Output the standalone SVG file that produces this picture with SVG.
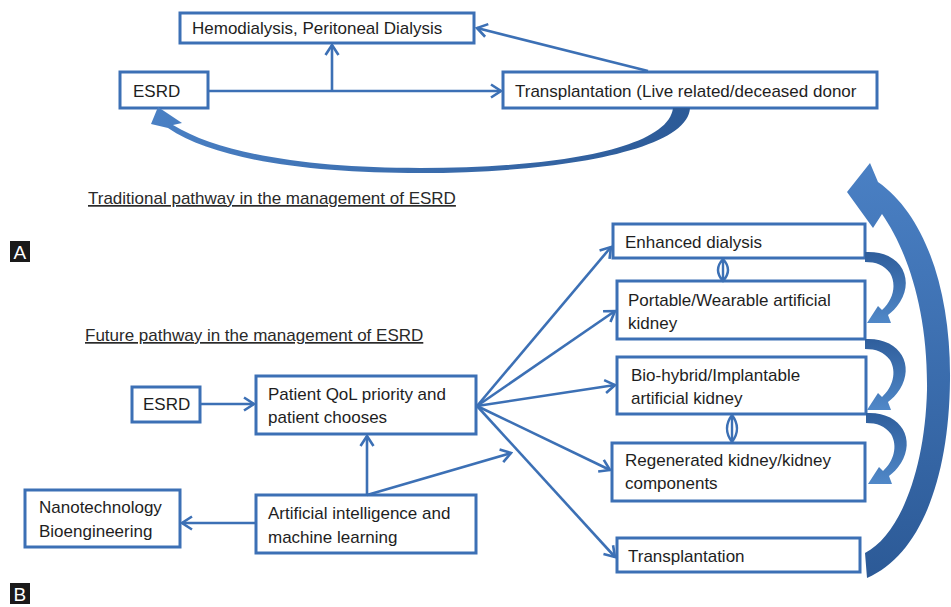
<svg xmlns="http://www.w3.org/2000/svg" xmlns:xlink="http://www.w3.org/1999/xlink" width="951" height="607" viewBox="0 0 951 607">
<style>
.box{fill:#ffffff;stroke:#3c70b5;stroke-width:3}
.t{font-family:"Liberation Sans",Arial,sans-serif;font-size:17px;fill:#1e1e1e}
.cap{font-family:"Liberation Sans",Arial,sans-serif;font-size:17px;fill:#2a2a2a;text-decoration:underline}
.ln{fill:none;stroke:#3c70b5;stroke-width:2.6}
.arr{marker-end:url(#ah)}
.lens{fill:none;stroke:#3c70b5;stroke-width:2.4}
.big{stroke:none}
.lab{font-family:"Liberation Sans",Arial,sans-serif;font-size:19px;fill:#ffffff}
</style>
<defs>
<marker id="ah" markerWidth="14" markerHeight="16" refX="12" refY="8" orient="auto" markerUnits="userSpaceOnUse">
<path d="M2,1.5 L12,8 L2,14.5" fill="none" stroke="#3c70b5" stroke-width="2.6"/>
</marker>
<linearGradient id="gA" x1="1" y1="0" x2="0" y2="0">
<stop offset="0" stop-color="#2c5a97"/>
<stop offset="1" stop-color="#4a80c4"/>
</linearGradient>
<linearGradient id="gB" x1="0" y1="1" x2="0" y2="0">
<stop offset="0" stop-color="#2c5a97"/>
<stop offset="1" stop-color="#4a80c4"/>
</linearGradient>
<linearGradient id="gC" x1="0" y1="0" x2="0" y2="1">
<stop offset="0" stop-color="#2f5e9c"/>
<stop offset="1" stop-color="#5088c8"/>
</linearGradient>
<path id="curl" d="M0,0 C35,-2 50,26 35,50 C31,56 27,60 23,63 L26,71 L2,71 L13,54 L17,58 C28,48 32,33 25,21 C19,13 11,10 0,10 Z" fill="url(#gC)"/>
</defs>

<rect width="951" height="607" fill="#ffffff"/>

<!-- Panel A nodes -->
<g id="hemo">
<rect class="box" x="180" y="13" width="294" height="30"/>
<text class="t" x="192" y="34">Hemodialysis, Peritoneal Dialysis</text>
</g>
<g id="esrdA">
<rect class="box" x="120" y="72" width="88" height="36"/>
<text class="t" x="133" y="97">ESRD</text>
</g>
<g id="transA">
<rect class="box" x="503" y="72" width="374" height="36"/>
<text class="t" x="515" y="97">Transplantation (Live related/deceased donor</text>
</g>

<!-- Panel B nodes -->
<g id="esrdB">
<rect class="box" x="132" y="387" width="68" height="35"/>
<text class="t" x="143" y="410">ESRD</text>
</g>
<g id="patient">
<rect class="box" x="256" y="376" width="220" height="58"/>
<text class="t" x="268" y="400">Patient QoL priority  and</text>
<text class="t" x="268" y="423">patient chooses</text>
</g>
<g id="nano">
<rect class="box" x="25" y="490" width="155" height="57"/>
<text class="t" x="39" y="513">Nanotechnology</text>
<text class="t" x="39" y="537">Bioengineering</text>
</g>
<g id="ai">
<rect class="box" x="256" y="495" width="220" height="58"/>
<text class="t" x="268" y="519">Artificial intelligence and</text>
<text class="t" x="268" y="543">machine learning</text>
</g>
<g id="enh">
<rect class="box" x="613" y="224" width="252" height="34"/>
<text class="t" x="625" y="248">Enhanced dialysis</text>
</g>
<g id="port">
<rect class="box" x="617" y="281" width="248" height="58"/>
<text class="t" x="628" y="306">Portable/Wearable artificial</text>
<text class="t" x="628" y="329">kidney</text>
</g>
<g id="bio">
<rect class="box" x="617" y="357" width="249" height="57"/>
<text class="t" x="631" y="381">Bio-hybrid/Implantable</text>
<text class="t" x="631" y="404">artificial kidney</text>
</g>
<g id="regen">
<rect class="box" x="612" y="443" width="253" height="58"/>
<text class="t" x="625" y="466">Regenerated kidney/kidney</text>
<text class="t" x="625" y="489">components</text>
</g>
<g id="transB">
<rect class="box" x="617" y="538" width="243" height="34"/>
<text class="t" x="628" y="562">Transplantation</text>
</g>

<!-- Connectors -->
<g id="connectors">
<!-- A -->
<path class="ln arr" d="M209,91 H501"/>
<path class="ln arr" d="M332,91 V45"/>
<path class="ln arr" d="M648,71 L477,28"/>
<path class="big" fill="url(#gA)" d="M690,108 C688,150 560,173 420,173 C310,173 215,160 168,128 L151,124 L158,107 L182,123 L173,125 C220,154 310,168 420,168 C550,168 668,150 673,108 Z"/>
<!-- B -->
<path class="ln arr" d="M201,404 H254"/>
<path class="ln arr" d="M367,495 V436"/>
<path class="ln arr" d="M367,495 L511,453"/>
<path class="ln arr" d="M256,523 H182"/>
<path class="ln arr" d="M477,406 L611,247"/>
<path class="ln arr" d="M477,406 L615,311"/>
<path class="ln arr" d="M477,406 L615,385"/>
<path class="ln arr" d="M477,406 L610,470"/>
<path class="ln arr" d="M477,406 L615,557"/>
<path class="lens" d="M723,259 V281 M723,259 Q733,270 723,281 Q713,270 723,259"/>
<path class="lens" d="M732,415 V442 M732,415 Q742,428.5 732,442 Q722,428.5 732,415"/>
<use xlink:href="#curl" href="#curl" transform="translate(865,252)"/>
<use xlink:href="#curl" href="#curl" transform="translate(865,339)"/>
<use xlink:href="#curl" href="#curl" transform="translate(866,413)"/>
<path class="big" fill="url(#gB)" d="M865,553 C900,535 925,470 927,390 C928,310 907,250 882,214 L873,228 L847,192 L870,163 L878,182 C925,215 951,290 950,380 C949,480 920,555 867,578 Z"/>
</g>

<!-- Captions -->
<text class="cap" x="88" y="204">Traditional pathway in the management of ESRD</text>
<text class="cap" x="85" y="341">Future pathway in the management of ESRD</text>

<!-- Panel labels -->
<g id="labelA">
<rect x="10" y="241" width="20" height="21" fill="#1a1a1a"/>
<text class="lab" x="13.5" y="258.5">A</text>
</g>
<g id="labelB">
<rect x="10" y="583" width="20" height="21" fill="#1a1a1a"/>
<text class="lab" x="13.5" y="600.5">B</text>
</g>
</svg>
